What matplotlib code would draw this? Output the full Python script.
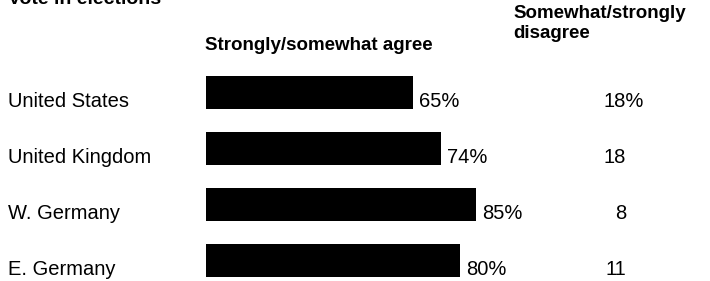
import matplotlib
matplotlib.use("Agg")
import matplotlib.pyplot as plt
from matplotlib.transforms import blended_transform_factory, ScaledTranslation

plt.rcParams['font.family'] = ['Liberation Sans', 'DejaVu Sans']

countries = ["United States", "United Kingdom", "W. Germany", "E. Germany"]
agree = [65, 74, 85, 80]
disagree = ["18%", "18", "8", "11"]

W, H = 710, 281
fig = plt.figure(figsize=(W / 100, H / 100), dpi=100)

# bar axes: x zero at 206 px, ~3.18 px per percent; rows 56 px apart
left, width = 206, 318
top, rowh = 64.5, 56
ax = fig.add_axes([left / W, 1 - (top + 4 * rowh) / H, width / W, 4 * rowh / H])
ypos = list(range(len(countries)))
ax.barh(ypos, agree, height=0.59, color='black')
ax.set_xlim(0, 100)
ax.set_ylim(3.5, -0.5)
ax.axis('off')

fs = 14.5
hfs = 13.5
# values at bar ends
for y, v in zip(ypos, agree):
    ax.annotate(f"{v}%", (v, y), xytext=(6, -9), textcoords='offset pixels',
                ha='left', va='center', fontsize=fs)

# country labels and disagree column (rows sit a bit below bar centres)
tr = blended_transform_factory(fig.transFigure, ax.transData) + \
    ScaledTranslation(0, -9 / 100, fig.dpi_scale_trans)
renderer = fig.canvas.get_renderer()
for i, (c, d) in enumerate(zip(countries, disagree)):
    ax.text(8 / W, i, c, transform=tr, ha='left', va='center', fontsize=fs,
            clip_on=False)
    # digits right-aligned at 626 px, a "%" hangs past it
    t = ax.text(626 / W, i, d.rstrip('%'), transform=tr, ha='right', va='center',
                fontsize=fs, clip_on=False)
    if d.endswith('%'):
        x0 = t.get_window_extent(renderer).x0
        t.set_text(d)
        t.set_horizontalalignment('left')
        t.set_x(x0 / fig.bbox.width)

# headers
fig.text(8 / W, 1 - 4 / H, "Vote in elections", ha='left', va='baseline',
         fontsize=14, fontweight='bold')
fig.text(205 / W, 1 - 45 / H, "Strongly/somewhat agree", ha='left', va='center',
         fontsize=hfs, fontweight='bold')
fig.text(513 / W, 1 - 13 / H, "Somewhat/strongly", ha='left', va='center',
         fontsize=hfs, fontweight='bold')
fig.text(513 / W, 1 - 33 / H, "disagree", ha='left', va='center',
         fontsize=hfs, fontweight='bold')

fig.savefig("out.png", dpi=100)
